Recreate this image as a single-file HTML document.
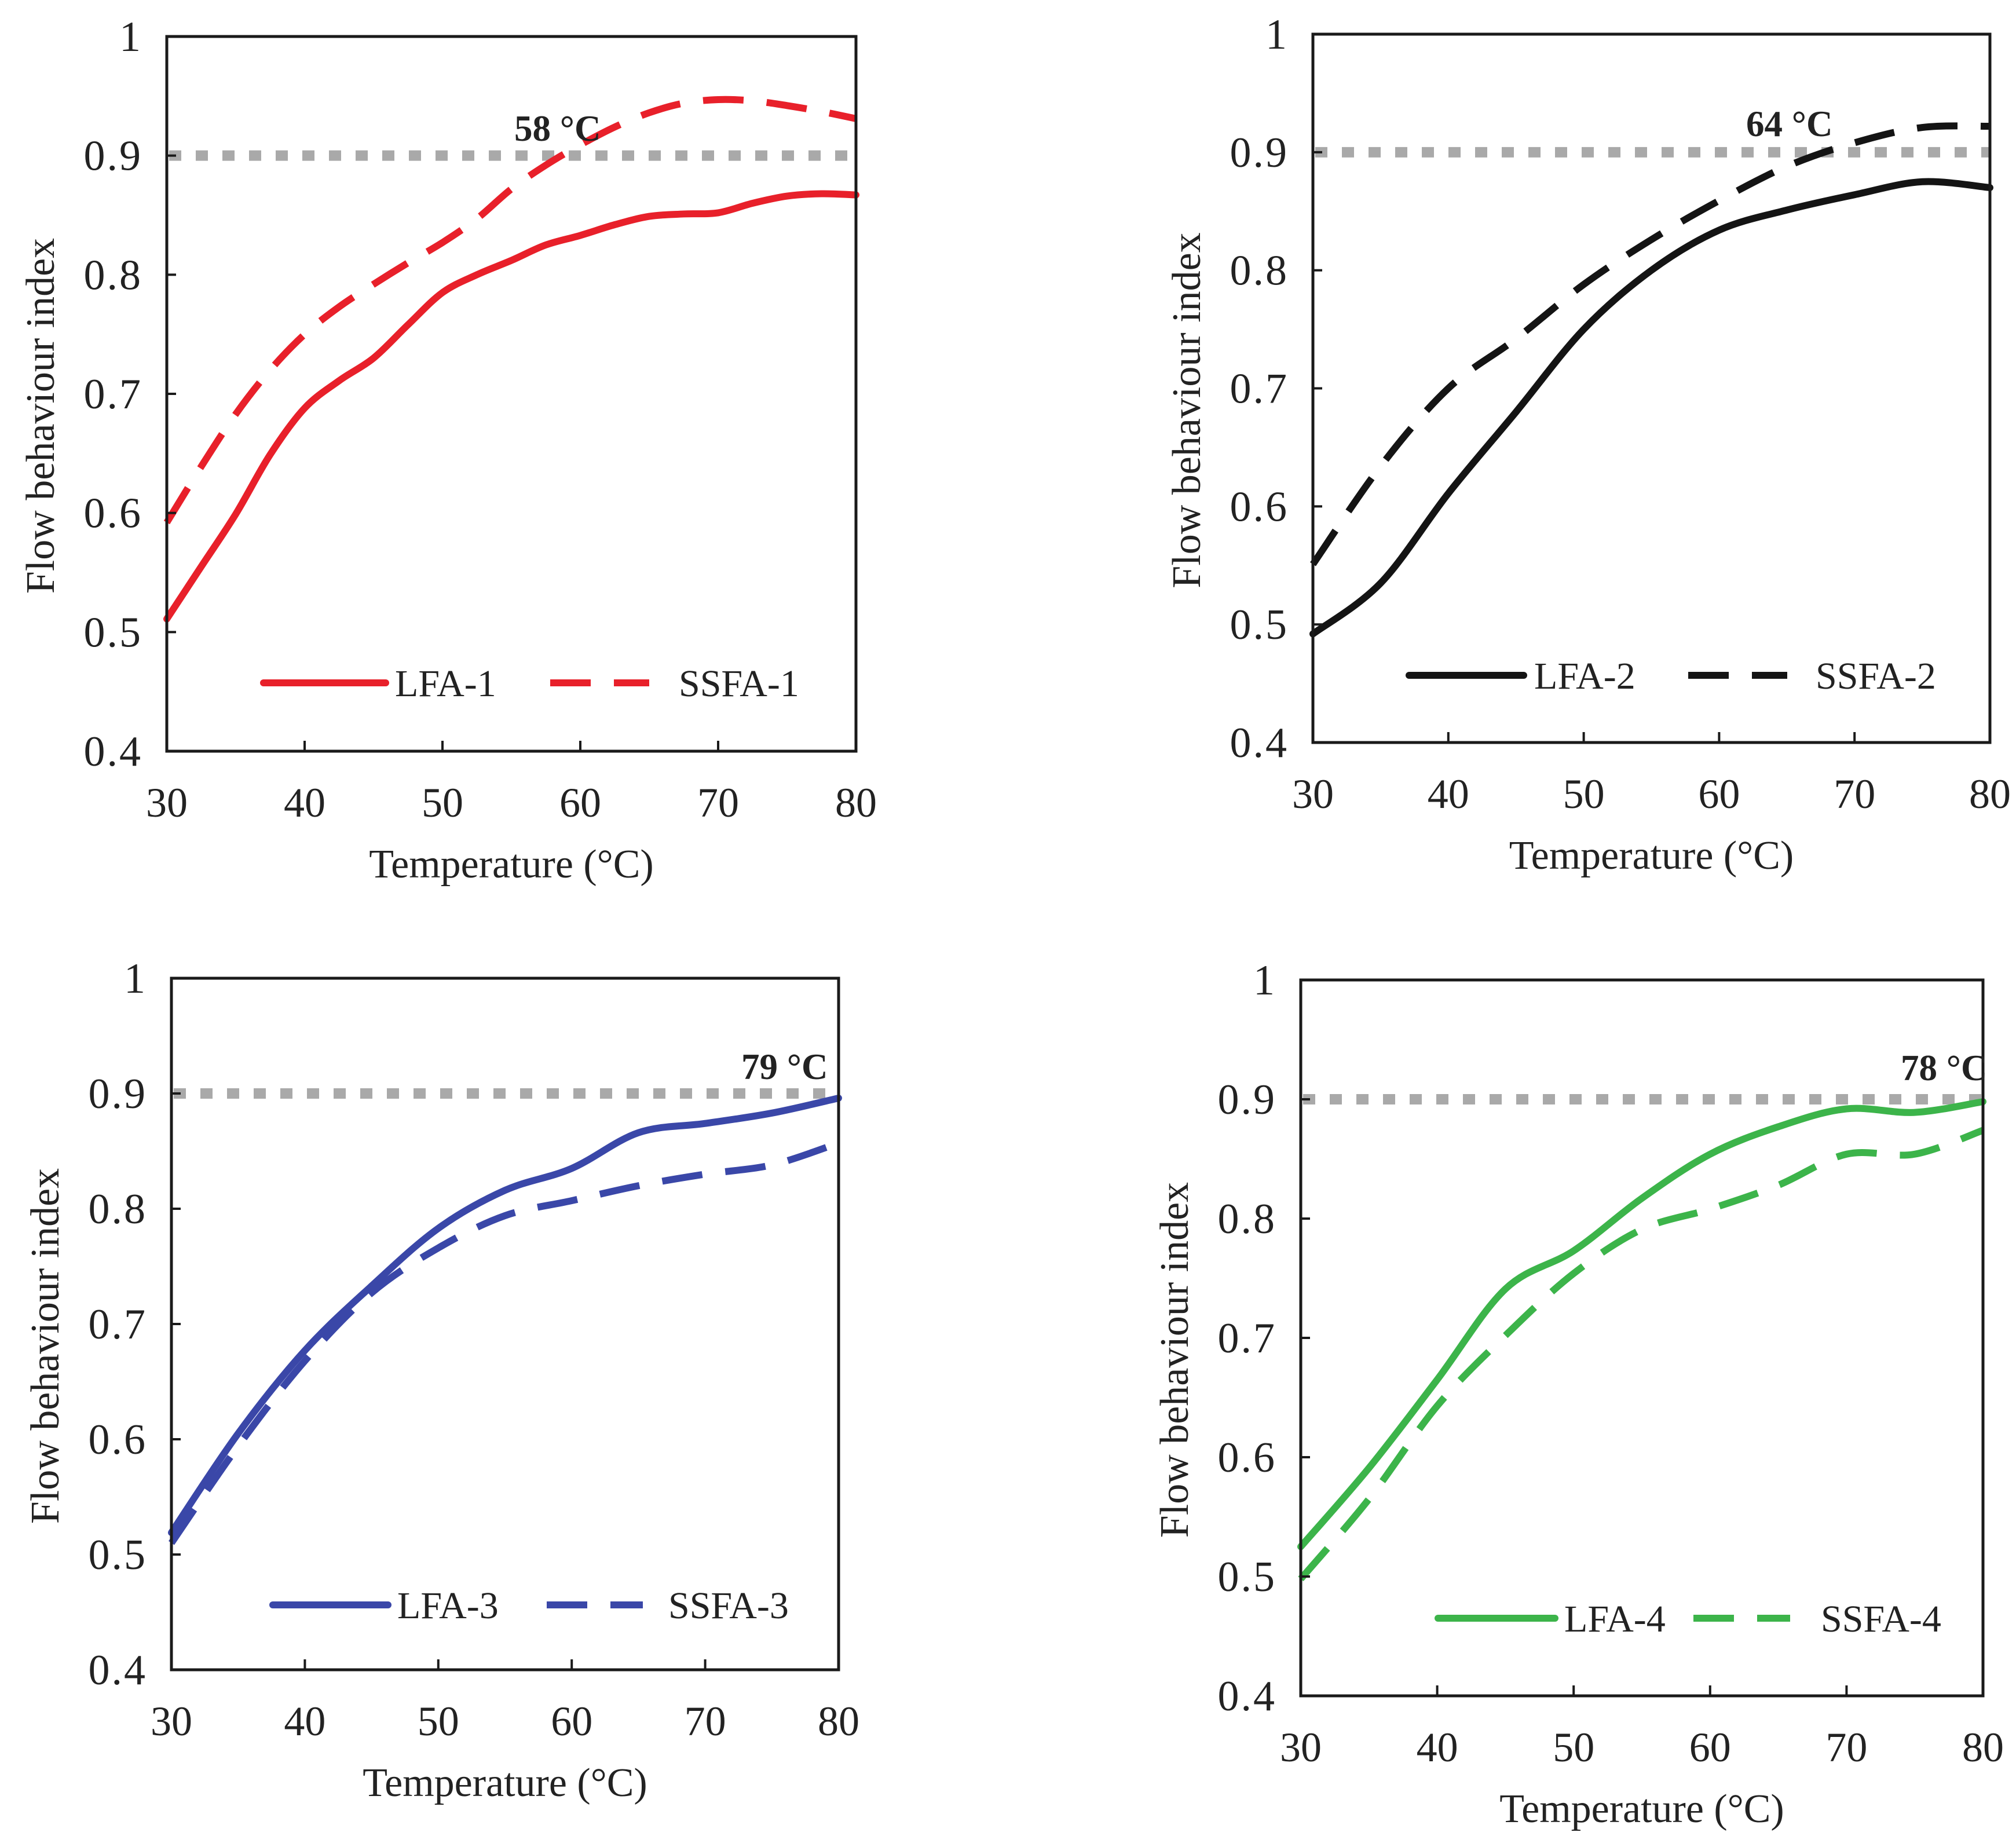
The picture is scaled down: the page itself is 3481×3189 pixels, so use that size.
<!DOCTYPE html>
<html><head><meta charset="utf-8"><style>
html,body{margin:0;padding:0;background:#fff;}
svg{display:block;}
text{font-family:"Liberation Serif",serif;fill:#222;}
</style></head><body>
<svg id="fig" width="3481" height="3189" viewBox="0 0 3481 3189" xmlns="http://www.w3.org/2000/svg"></svg>
<script>
const temps1=[30,32.5,35,37.5,40,42.5,45,47.5,50,52.5,55,57.5,60,62.5,65,67.5,70,72.5,75,77.5,80];
const lfa1=[0.511,0.555,0.599,0.649,0.688,0.711,0.730,0.758,0.785,0.800,0.812,0.825,0.833,0.842,0.849,0.851,0.852,0.860,0.866,0.868,0.867];
const ssfa1=[0.592,0.639,0.683,0.720,0.750,0.773,0.792,0.810,0.827,0.847,0.872,0.892,0.909,0.924,0.936,0.944,0.947,0.946,0.942,0.937,0.931];
const temps=[30,35,40,45,50,55,60,65,70,75,80];
const lfa2=[0.492,0.535,0.611,0.680,0.750,0.800,0.834,0.851,0.864,0.875,0.870];
const ssfa2=[0.551,0.634,0.700,0.742,0.788,0.826,0.859,0.888,0.908,0.921,0.922];
const lfa3=[0.519,0.605,0.677,0.733,0.783,0.816,0.835,0.866,0.874,0.883,0.896];
const ssfa3=[0.510,0.594,0.668,0.727,0.766,0.794,0.807,0.820,0.830,0.838,0.857];
const lfa4=[0.525,0.591,0.665,0.741,0.773,0.817,0.854,0.877,0.892,0.889,0.898];
const ssfa4=[0.498,0.565,0.643,0.702,0.754,0.791,0.808,0.828,0.854,0.854,0.874];
const yTicks=[0.4,0.5,0.6,0.7,0.8,0.9,1];
const yTickLabels=["0.4","0.5","0.6","0.7","0.8","0.9","1"];
const xTicks=[30,40,50,60,70,80];
const threshold=0.9;
const thresholdLabels=["58 °C","64 °C","79 °C","78 °C"];
const legendNames=[["LFA-1","SSFA-1"],["LFA-2","SSFA-2"],["LFA-3","SSFA-3"],["LFA-4","SSFA-4"]];

const NS="http://www.w3.org/2000/svg";
const svg=document.getElementById('fig');
function mk(tag,attrs,parent){const e=document.createElementNS(NS,tag);for(const k in attrs)e.setAttribute(k,attrs[k]);(parent||svg).appendChild(e);return e;}
function smooth(pts){let d=`M${pts[0][0]},${pts[0][1]}`;for(let i=0;i<pts.length-1;i++){const p0=pts[Math.max(0,i-1)],p1=pts[i],p2=pts[i+1],p3=pts[Math.min(pts.length-1,i+2)];const c1x=p1[0]+(p2[0]-p0[0])/6,c1y=p1[1]+(p2[1]-p0[1])/6,c2x=p2[0]-(p3[0]-p1[0])/6,c2y=p2[1]-(p3[1]-p1[1])/6;d+=`C${c1x},${c1y} ${c2x},${c2y} ${p2[0]},${p2[1]}`;}return d;}

const panels=[
 {L:288,T:63,R:1478,B:1297,color:"#e8202a",xs:temps1,a:lfa1,b:ssfa1,lab:[888,243],leg:[455,666,682,950,1121,1172,1179]},
 {L:2267,T:59,R:3436,B:1282,color:"#141414",xs:temps,a:lfa2,b:ssfa2,lab:[3015,235],leg:[2433,2631,2649,2915,3086,3135,1166]},
 {L:296,T:1689,R:1448,B:2883,color:"#3a47a8",xs:temps,a:lfa3,b:ssfa3,lab:[1280,1863],leg:[471,670,686,944,1110,1154,2771]},
 {L:2246,T:1692,R:3424,B:2928,color:"#3cb44a",xs:temps,a:lfa4,b:ssfa4,lab:[3282,1865],leg:[2483,2685,2701,2924,3091,3144,2794]}
];
panels.forEach((p,i)=>{
 const g=mk('g',{});
 
 
 const xS=v=>p.L+(v-30)/50*(p.R-p.L);
 const yS=v=>p.B-(v-0.4)/0.6*(p.B-p.T);
 const th=mk('line',{x1:p.L+4,x2:p.R,y1:yS(threshold),y2:yS(threshold),stroke:"#a9a9a9","stroke-width":18,"stroke-dasharray":"21 25"},g);
 
 
 const sa=mk('path',{d:smooth(p.xs.map((x,k)=>[xS(x),yS(p.a[k])])),fill:"none",stroke:p.color,"stroke-width":12,"stroke-linecap":"round"},g);
 
 
 const sb=mk('path',{d:smooth(p.xs.map((x,k)=>[xS(x),yS(p.b[k])])),fill:"none",stroke:p.color,"stroke-width":12,"stroke-dasharray":"70 40"},g);
 
 
 const fr=mk('rect',{x:p.L,y:p.T,width:p.R-p.L,height:p.B-p.T,fill:"none",stroke:"#1a1a1a","stroke-width":5},g);
 
 
 yTicks.forEach((v,k)=>{
  const t=mk('line',{x1:p.L,x2:p.L+16,y1:yS(v),y2:yS(v),stroke:"#1a1a1a","stroke-width":4},g);
  
  
  const tl=mk('text',{x:p.L-42,y:yS(v)+25,"text-anchor":"end","font-size":74,"letter-spacing":3},g);
  tl.textContent=yTickLabels[k];
  
  
 });
 xTicks.forEach(v=>{
  const t=mk('line',{x1:xS(v),x2:xS(v),y1:p.B,y2:p.B-18,stroke:"#1a1a1a","stroke-width":4},g);
  
  
  const tl=mk('text',{x:xS(v),y:p.B+113,"text-anchor":"middle","font-size":72},g);
  tl.textContent=String(v);
  
  
 });
 const xt=mk('text',{x:(p.L+p.R)/2,y:p.B+218,"text-anchor":"middle","font-size":70},g);
 xt.textContent="Temperature (°C)";
 
 
 const cy=(p.T+p.B)/2+38, cx=p.L-195;
 const yt=mk('text',{x:cx,y:cy,"text-anchor":"middle","font-size":70,transform:`rotate(-90 ${cx} ${cy})`},g);
 yt.textContent="Flow behaviour index";
 
 
 const lb=mk('text',{x:p.lab[0],y:p.lab[1],"font-size":63,"font-weight":"bold"},g);
 lb.textContent=thresholdLabels[i];
 
 
 const lg=p.leg;
 const l1=mk('line',{x1:lg[0],x2:lg[1],y1:lg[6],y2:lg[6],stroke:p.color,"stroke-width":12,"stroke-linecap":"round"},g);
 
 
 const t1=mk('text',{x:lg[2],y:lg[6]+23,"font-size":66},g);
 t1.textContent=legendNames[i][0];
 
 
 const l2=mk('line',{x1:lg[3],x2:lg[4],y1:lg[6],y2:lg[6],stroke:p.color,"stroke-width":12,"stroke-dasharray":"70 40"},g);
 
 
 const t2=mk('text',{x:lg[5],y:lg[6]+23,"font-size":66},g);
 t2.textContent=legendNames[i][1];
 
 
});
</script>
</body></html>
